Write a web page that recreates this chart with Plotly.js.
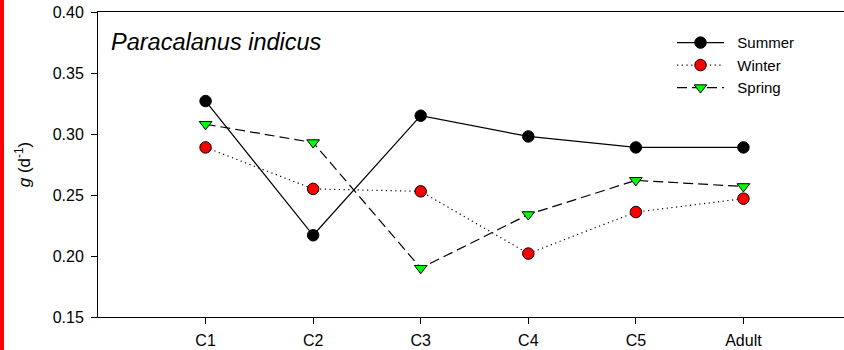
<!DOCTYPE html>
<html>
<head>
<meta charset="utf-8">
<script src="https://cdn.plot.ly/plotly-3.0.1.min.js"></script>
<style>
html,body{margin:0;padding:0;overflow:hidden;background:#fff;width:844px;height:350px;}
#bar{position:absolute;left:0;top:0;width:4px;height:350px;background:#ff0000;z-index:10;}
#chart{position:absolute;left:0;top:0;}
</style>
</head>
<body>
<div id="bar"></div>
<div id="chart"></div>
<script>
const stages = ["C1", "C2", "C3", "C4", "C5", "Adult"];
const seriesNames = ["Summer", "Winter", "Spring"];
const summer = [0.327, 0.217, 0.315, 0.298, 0.289, 0.289];
const winter = [0.289, 0.255, 0.253, 0.202, 0.236, 0.247];
const spring = [0.308, 0.293, 0.190, 0.234, 0.262, 0.257];
const yTicks = [0.15, 0.20, 0.25, 0.30, 0.35, 0.40];

const FONT = "Liberation Sans, Arial, sans-serif";
const pad = "\u00A0\u00A0";

const traces = [
  {
    name: pad + seriesNames[0], x: stages, y: summer, type: "scatter", mode: "lines+markers",
    line: {color: "#000", width: 1.2},
    marker: {symbol: "circle", size: 11.5, color: "#000", line: {color: "#000", width: 1}}
  },
  {
    name: pad + seriesNames[1], x: stages, y: winter, type: "scatter", mode: "lines+markers",
    line: {color: "#000", width: 1.2, dash: "1.2px,3.5px"},
    marker: {symbol: "circle", size: 11.5, color: "#ff0000", line: {color: "#000", width: 1}}
  },
  {
    name: pad + seriesNames[2], x: stages, y: spring, type: "scatter", mode: "lines+markers",
    line: {color: "#000", width: 1.2, dash: "10px,5px"},
    marker: {symbol: "triangle-down", size: 11, color: "#00ff00", line: {color: "#000", width: 1}}
  }
];

const layout = {
  width: 870, height: 350,
  margin: {l: 98, r: 19, t: 12, b: 33},
  paper_bgcolor: "#fff", plot_bgcolor: "#fff",
  font: {family: FONT, size: 16, color: "#000"},
  showlegend: true,
  legend: {
    x: 0.7623, y: 0.953, xanchor: "left", yanchor: "top",
    bgcolor: "rgba(0,0,0,0)", font: {size: 15, family: FONT},
    itemwidth: 47, tracegroupgap: 0
  },
  xaxis: {
    type: "category", range: [-1, 6],
    showline: true, linecolor: "#000", linewidth: 1, mirror: true,
    ticks: "outside", ticklen: 6, tickcolor: "#000", tickwidth: 1,
    ticklabelstandoff: 3,
    showgrid: false, zeroline: false,
    tickfont: {size: 16, family: FONT}
  },
  yaxis: {
    range: [0.15, 0.40], tickvals: yTicks, tickformat: ".2f",
    showline: true, linecolor: "#000", linewidth: 1, mirror: true,
    ticks: "outside", ticklen: 6, tickcolor: "#000", tickwidth: 1,
    ticklabelstandoff: 4,
    showgrid: false, zeroline: false,
    tickfont: {size: 16, family: FONT},
    title: {text: "<i>g</i> (d<sup>-1</sup>)", font: {size: 17, family: FONT}, standoff: 17}
  },
  annotations: [{
    text: "<i>Paracalanus indicus</i>", xref: "paper", yref: "paper",
    x: 0.0146, y: 0.90, xanchor: "left", yanchor: "middle", showarrow: false,
    font: {size: 23.5, family: FONT, color: "#000"}
  }]
};

Plotly.newPlot("chart", traces, layout, {displayModeBar: false, staticPlot: true});
</script>
</body>
</html>
